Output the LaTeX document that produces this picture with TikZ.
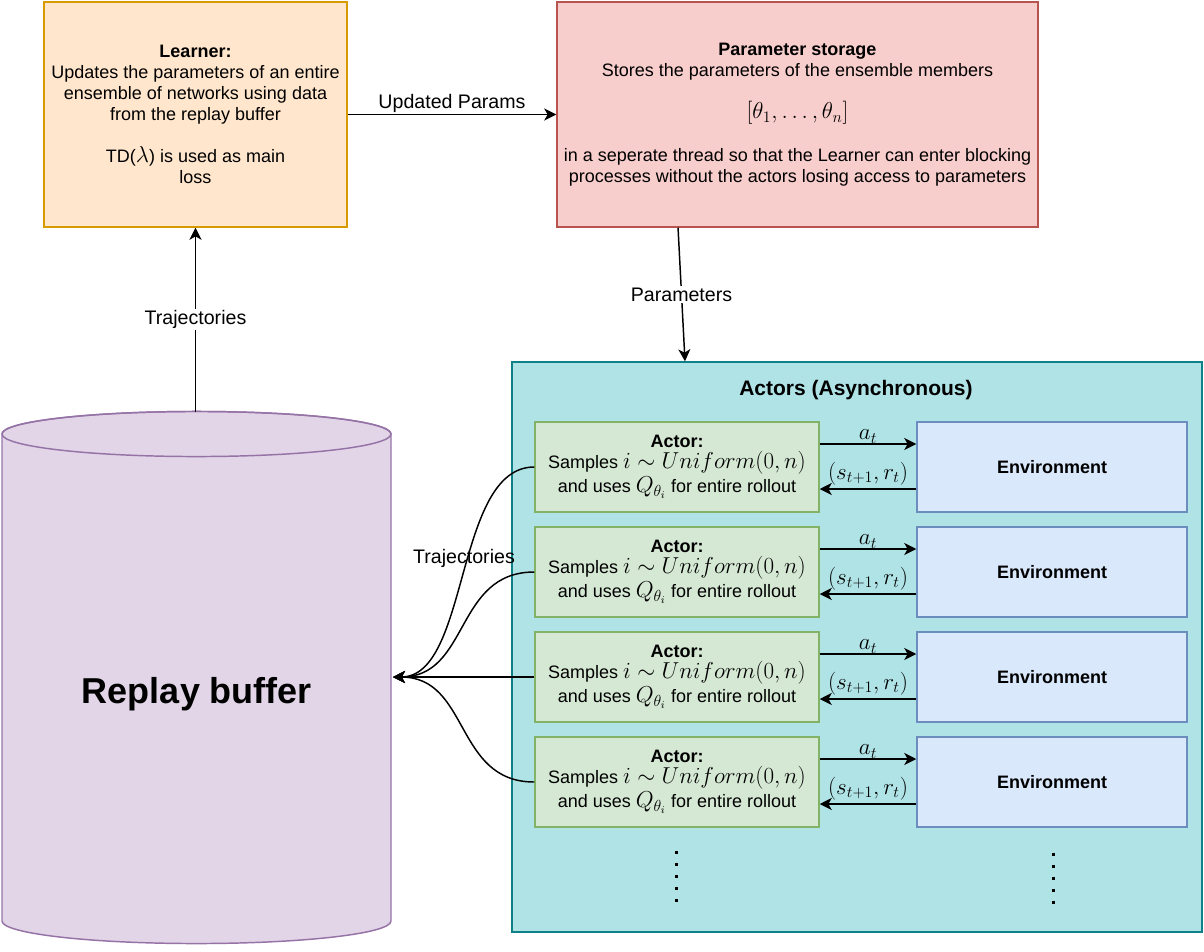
\documentclass[tikz,border=0pt]{standalone}
\usepackage{fontspec}
\setmainfont{Liberation Sans}
\usetikzlibrary{arrows.meta}
\definecolor{tikzorangefill}{HTML}{FFE6CC}
\definecolor{tikzorangeline}{HTML}{D79B00}
\definecolor{tikzredfill}{HTML}{F8CECC}
\definecolor{tikzredline}{HTML}{B85450}
\definecolor{tikzpurplefill}{HTML}{E1D5E7}
\definecolor{tikzpurpleline}{HTML}{9673A6}
\definecolor{tikztealfill}{HTML}{B0E3E6}
\definecolor{tikztealline}{HTML}{0E8088}
\definecolor{tikzgreenfill}{HTML}{D5E8D4}
\definecolor{tikzgreenline}{HTML}{82B366}
\definecolor{tikzbluefill}{HTML}{DAE8FC}
\definecolor{tikzblueline}{HTML}{6C8EBF}
\newcommand{\basefont}{\fontsize{13.5pt}{15.75pt}\selectfont}
\newcommand{\edgefont}{\fontsize{14.7pt}{17pt}\selectfont}
\newcommand{\mathbig}[1]{{\fontsize{16.4pt}{19pt}\selectfont$#1$}}

\begin{document}
\begin{tikzpicture}[x=0.75pt,y=-0.75pt,
        box/.style={draw, line width=1.1pt, inner sep=0pt, align=center, font=\basefont},
        learnerbox/.style={box, fill=tikzorangefill, draw=tikzorangeline,
            minimum width=227.25pt, minimum height=168.75pt},
        storebox/.style={box, fill=tikzredfill, draw=tikzredline,
            minimum width=360.75pt, minimum height=168.75pt},
        actorsbox/.style={box, fill=tikztealfill, draw=tikztealline,
            minimum width=517.5pt, minimum height=427.5pt},
        actorbox/.style={box, fill=tikzgreenfill, draw=tikzgreenline,
            minimum width=213pt, minimum height=67.5pt},
        envbox/.style={box, fill=tikzbluefill, draw=tikzblueline,
            minimum width=202.5pt, minimum height=67.5pt},
        arr/.style={-{Stealth[length=9pt,width=9pt,inset=2.5pt]}, line width=1.1pt},
        elabel/.style={font=\edgefont, inner sep=1pt}]
        \useasboundingbox (0,0) rectangle (1204,951);
        % top row
        \node[learnerbox] (learner) at (195.5,114.5) {\textbf{Learner:}\\
            Updates the parameters of an entire\\ensemble of networks using data\\
            from the replay buffer\\[15.75pt]TD(\mathbig{\lambda}) is used as main\\loss};
        \node[storebox] (store) at (797.5,114.5) {\textbf{Parameter storage}\\
            Stores the parameters of the ensemble members\\[16pt]
            \mathbig{[\theta_1, \dots, \theta_n]}\\[16pt]
            in a seperate thread so that the Learner can enter blocking\\
            processes without the actors losing access to parameters};
        \draw[arr] (learner.east) -- (store.west)
            node[midway, above=1pt, font=\edgefont, inner sep=0pt] {Updated Params};
        % replay buffer
        \filldraw[fill=tikzpurplefill, draw=tikzpurpleline, line width=1.1pt]
            (2,434) -- (2,921) arc[start angle=180, end angle=360, x radius=145.875pt, y radius=16.9pt]
            -- (391,434) arc[start angle=0, end angle=180, x radius=145.875pt, y radius=16.9pt] -- cycle;
        \draw[tikzpurpleline, line width=1.1pt] (196.5,434) ellipse [x radius=145.875pt, y radius=16.9pt];
        \node[font=\bfseries\fontsize{27pt}{32pt}\selectfont] (buflabel) at (197,694) {Replay buffer};
        \coordinate (buftop) at (195.5,411.5);
        \coordinate (bufin) at (393,677);
        \draw[arr] (buftop) -- (learner.south)
            node[midway, elabel, fill=white] {Trajectories};
        % actors
        \node[actorsbox] (actors) at (857,647) {};
        \node[font=\bfseries\fontsize{15.75pt}{18pt}\selectfont] (actorstitle) at (856,390) {Actors (Asynchronous)};
        \draw[arr] ([xshift=-89.6pt]store.south) -- ([xshift=-129pt]actors.north)
            node[midway, elabel, fill=white] {Parameters};
        \foreach \i/\y in {1/467,2/572,3/677,4/782} {
            \node[actorbox] (actor\i) at (677,\y) {\textbf{Actor:}\\
                Samples \mathbig{i \sim Uniform(0,n)}\\[1pt]and uses \mathbig{Q_{\theta_i}} for entire rollout};
            \node[envbox] (env\i) at (1052,\y) {\textbf{Environment}};
            \draw[arr] ([yshift=17.25pt]actor\i.east) -- ([yshift=17.25pt]env\i.west)
                node[midway, above=0pt, inner sep=0pt] {\mathbig{a_t}};
            \draw[arr] ([yshift=-16.5pt]env\i.west) -- ([yshift=-16.5pt]actor\i.east)
                node[midway, above=2.5pt, inner sep=0pt] {\mathbig{(s_{t+1}, r_t)}};
            \draw[arr] (actor\i.west) .. controls +(-80,0) and +(77,0) .. (bufin);
        }
        \node[elabel] (trajlabel) at (464,558) {Trajectories};
        \foreach \k in {0,...,4} {
            \fill (674.5,850.5+12*\k) rectangle ++(3,3);
            \fill (1051.5,852.5+12*\k) rectangle ++(3,3);
        }
    \end{tikzpicture}
\end{document}
